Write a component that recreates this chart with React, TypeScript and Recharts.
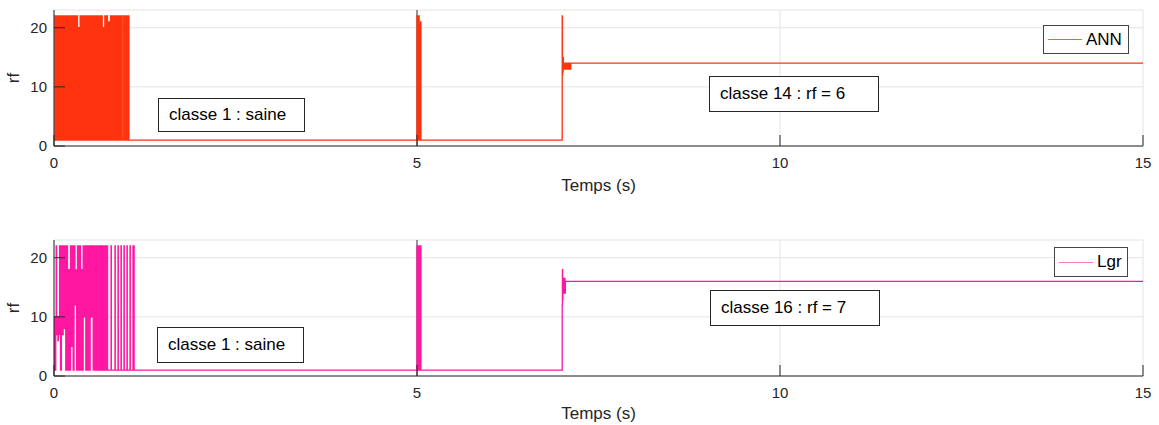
import React from 'react';
import { LineChart, Line, XAxis, YAxis, CartesianGrid, ReferenceLine } from 'recharts';

const X_TICKS = [0, 5, 10, 15];
const Y_TICKS = [0, 10, 20];

// ANN estimate (top panel), drawn as a step signal
const annTime = [
  0.000, 0.012, 0.024, 0.036, 0.048, 0.060, 0.072, 0.084, 0.096, 0.108,
  0.120, 0.132, 0.144, 0.156, 0.168, 0.180, 0.192, 0.204, 0.216, 0.228,
  0.240, 0.252, 0.264, 0.276, 0.288, 0.300, 0.312, 0.324, 0.336, 0.348,
  0.360, 0.372, 0.384, 0.396, 0.408, 0.420, 0.432, 0.444, 0.456, 0.468,
  0.480, 0.492, 0.504, 0.516, 0.528, 0.540, 0.552, 0.564, 0.576, 0.588,
  0.604, 0.616, 0.628, 0.640, 0.652, 0.664, 0.676, 0.688, 0.700, 0.712,
  0.724, 0.736, 0.748, 0.760, 0.778, 0.790, 0.802, 0.814, 0.826, 0.838,
  0.852, 0.864, 0.876, 0.888, 0.904, 0.916, 0.928, 0.940, 0.960, 0.972,
  0.984, 0.996, 1.008, 1.020, 1.026, 1.032,
  5.000, 5.006, 5.012, 5.018, 5.024, 5.030, 5.036, 5.042, 5.048, 5.054,
  7.000, 7.003, 7.006, 7.009, 7.012, 7.016, 7.022, 7.030, 7.038, 7.046,
  7.054, 7.062, 7.070, 7.078, 7.086, 7.094, 7.102, 7.110, 7.118, 15.000,
];
const annRf = [
  22, 1, 22, 1, 22, 1, 22, 1, 22, 1,
  22, 1, 22, 1, 22, 1, 22, 1, 22, 1,
  22, 1, 22, 1, 22, 1, 22, 1, 20, 1,
  22, 1, 22, 1, 22, 1, 22, 1, 22, 1,
  22, 1, 22, 1, 22, 1, 22, 1, 22, 1,
  22, 1, 22, 1, 22, 1, 20, 1, 22, 1,
  22, 1, 21, 1, 22, 1, 22, 1, 22, 1,
  22, 1, 22, 1, 22, 1, 22, 1, 22, 1,
  22, 1, 22, 1, 22, 1,
  22, 1, 22, 1, 22, 1, 21, 1, 21, 1,
  22, 12, 15, 12.5, 15, 13, 14, 13, 14, 13,
  14, 13, 14, 13, 14, 13, 14, 13, 14, 14,
];

// Lgr estimate (bottom panel), drawn as a step signal
const lgrTime = [
  0.000, 0.006, 0.012, 0.018, 0.024, 0.030, 0.036, 0.042, 0.048, 0.054,
  0.060, 0.066, 0.072, 0.078, 0.090, 0.102, 0.114, 0.126, 0.138, 0.150,
  0.162, 0.174, 0.186, 0.198, 0.210, 0.228, 0.240, 0.252, 0.264, 0.276,
  0.288, 0.300, 0.312, 0.324, 0.336, 0.348, 0.366, 0.378, 0.390, 0.402,
  0.414, 0.426, 0.438, 0.450, 0.462, 0.474, 0.486, 0.498, 0.510, 0.528,
  0.540, 0.552, 0.564, 0.576, 0.588, 0.600, 0.612, 0.624, 0.642, 0.654,
  0.666, 0.678, 0.690, 0.702, 0.714, 0.726, 0.738,
  0.786, 0.790, 0.840, 0.844, 0.882, 0.886, 0.923, 0.927, 0.964, 0.968,
  1.005, 1.009, 1.047, 1.051, 1.088, 1.092, 1.100, 1.104,
  5.000, 5.006, 5.012, 5.018, 5.024, 5.030, 5.036, 5.042, 5.048, 5.054,
  7.000, 7.003, 7.006, 7.010, 7.014, 7.020, 7.026, 7.032, 7.038, 7.044, 15.000,
];
const lgrRf = [
  10, 1, 10, 1, 10, 22, 10, 7, 10, 6,
  10, 7, 10, 22, 1, 22, 7, 22, 8, 22,
  1, 22, 1, 18, 1, 22, 5, 22, 1, 22,
  12, 18, 1, 22, 1, 22, 1, 18, 1, 22,
  10, 22, 1, 22, 1, 22, 1, 22, 10, 22,
  1, 22, 1, 22, 1, 22, 1, 22, 1, 22,
  1, 22, 1, 22, 1, 22, 1,
  22, 1, 22, 1, 22, 1, 22, 1, 22, 1,
  22, 1, 22, 1, 22, 1, 22, 1,
  22, 1, 22, 1, 22, 1, 22, 1, 22, 1,
  12, 18, 13, 16.5, 14, 16.5, 14, 16.5, 14, 16, 16,
];

const FONT = '"Liberation Sans", Arial, Helvetica, sans-serif';
const INK = '#262626';
const W = 1159;
const H = 198;

type Note = { left: number; top: number; width: number; height: number; text: string };
type LegendBox = { left: number; top: number; width: number; height: number; lineTop: number };

type PanelProps = {
  top: number;
  time: number[];
  rf: number[];
  name: string;
  color: string;
  legendColor: string;
  topBorder: string;
  labelOffset: number;
  notes: Note[];
  legend: LegendBox;
};

const Panel: React.FC<PanelProps> = ({
  top, time, rf, name, color, legendColor, topBorder, labelOffset, notes, legend,
}) => {
  const data = time.map((t, i) => ({ t, rf: rf[i] }));

  return (
    <div style={{ position: 'absolute', left: 0, top, width: W, height: H }}>
      <LineChart width={W} height={H} data={data} margin={{ top: 10, right: 16, bottom: 0, left: 0 }}>
        <CartesianGrid xAxisId="b" yAxisId="l" stroke="#e4e4e4" />
        <XAxis
          xAxisId="b"
          dataKey="t"
          type="number"
          domain={[0, 15]}
          ticks={X_TICKS}
          allowDataOverflow
          height={52}
          tickSize={-11}
          tickMargin={22}
          stroke={INK}
          tick={{ fill: INK, fontSize: 15, fontFamily: FONT }}
          label={{ value: 'Temps (s)', position: 'insideBottom', offset: labelOffset, fill: INK, fontSize: 17, fontFamily: FONT }}
        />
        <XAxis
          xAxisId="t"
          orientation="top"
          dataKey="t"
          type="number"
          domain={[0, 15]}
          ticks={X_TICKS}
          allowDataOverflow
          height={0}
          tick={false}
          tickSize={-11}
          stroke={topBorder}
        />
        <YAxis
          yAxisId="l"
          type="number"
          domain={[0, 23]}
          ticks={Y_TICKS}
          allowDataOverflow
          width={54}
          tickSize={-11}
          tickMargin={18}
          stroke={INK}
          tick={{ fill: INK, fontSize: 15, fontFamily: FONT }}
        />
        <YAxis
          yAxisId="r"
          orientation="right"
          type="number"
          domain={[0, 23]}
          ticks={Y_TICKS}
          allowDataOverflow
          width={0}
          tick={false}
          tickSize={-11}
          stroke={INK}
        />
        <ReferenceLine xAxisId="b" yAxisId="l" x={5} stroke="#3a3a3a" strokeWidth={1} />
        <Line
          xAxisId="b"
          yAxisId="l"
          dataKey="rf"
          name={name}
          type="stepAfter"
          stroke={color}
          strokeWidth={1.3}
          dot={false}
          activeDot={false}
          isAnimationActive={false}
        />
      </LineChart>

      {/* y label */}
      <div
        style={{
          position: 'absolute', left: -6, top: 68, width: 40, height: 20, lineHeight: '20px',
          textAlign: 'center', transform: 'rotate(-90deg)', fontFamily: FONT, fontSize: 17, color: INK,
        }}
      >
        rf
      </div>

      {notes.map((n) => (
        <div
          key={n.text}
          style={{
            position: 'absolute', left: n.left, top: n.top, width: n.width, height: n.height,
            boxSizing: 'border-box', border: `1px solid ${INK}`, background: '#fff',
            paddingLeft: 10, lineHeight: `${n.height - 2}px`, fontFamily: FONT, fontSize: 17,
            color: '#000', whiteSpace: 'nowrap',
          }}
        >
          {n.text}
        </div>
      ))}

      {/* legend */}
      <div
        style={{
          position: 'absolute', left: legend.left, top: legend.top, width: legend.width, height: legend.height,
          boxSizing: 'border-box', border: '1px solid #444', background: '#fff',
        }}
      >
        <svg width={40} height={legend.height} style={{ position: 'absolute', left: 0, top: 0 }}>
          <line x1={4} x2={38} y1={legend.lineTop + 0.5} y2={legend.lineTop + 0.5} stroke={legendColor} strokeWidth={1.2} />
        </svg>
        <div
          style={{
            position: 'absolute', left: 42, top: 0, lineHeight: `${legend.height - 2}px`,
            fontFamily: FONT, fontSize: 17, color: '#000',
          }}
        >
          {name}
        </div>
      </div>
    </div>
  );
};

const App: React.FC = () => (
  <div style={{ position: 'absolute', left: 0, top: 0, width: W, height: 425, background: '#fff', overflow: 'hidden' }}>
    <Panel
      top={0}
      time={annTime}
      rf={annRf}
      name="ANN"
      color="#ff330d"
      legendColor="#ff5a3c"
      topBorder="#9a9a9a"
      labelOffset={7}
      notes={[
        { left: 158, top: 98, width: 147, height: 34, text: 'classe 1 : saine' },
        { left: 709, top: 76, width: 170, height: 36, text: 'classe 14 : rf = 6' },
      ]}
      legend={{ left: 1043, top: 25, width: 86, height: 29, lineTop: 13 }}
    />
    <Panel
      top={230}
      time={lgrTime}
      rf={lgrRf}
      name="Lgr"
      color="#ff17a2"
      legendColor="#ff7ccb"
      topBorder={INK}
      labelOffset={9}
      notes={[
        { left: 157, top: 97, width: 147, height: 36, text: 'classe 1 : saine' },
        { left: 710, top: 60, width: 170, height: 36, text: 'classe 16 : rf = 7' },
      ]}
      legend={{ left: 1054, top: 17, width: 74, height: 30, lineTop: 14 }}
    />
  </div>
);

export default App;
